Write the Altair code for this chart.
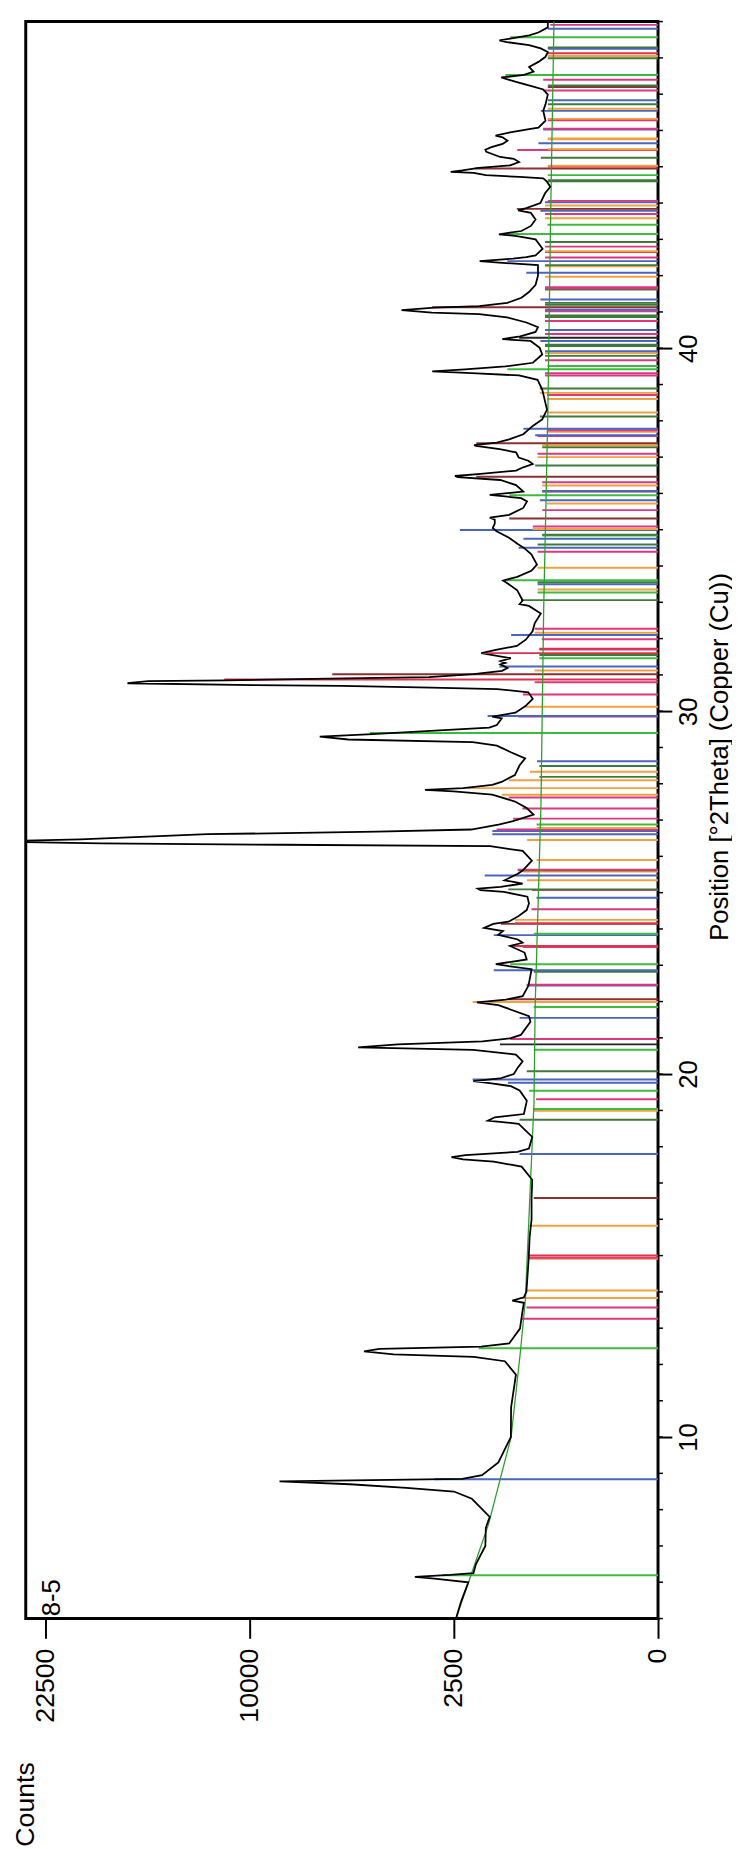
import altair as alt
import pandas as pd

# ---- measured pattern (2Theta, counts) ----
theta_pts = [5.00,5.46,6.00,6.10,6.15,6.20,6.25,6.50,7.00,7.50,7.80,8.30,8.50,8.60,8.70,8.78,8.85,8.95,9.30,10.00,
 10.82,11.72,12.09,12.21,12.28,12.36,12.43,12.49,12.58,12.99,13.50,13.70,13.76,13.85,14.00,14.90,15.50,16.00,16.60,17.09,
 17.45,17.59,17.65,17.71,17.77,17.86,17.95,18.27,18.63,18.72,18.81,18.90,19.27,19.55,19.67,19.75,19.81,19.88,20.00,20.17,
 20.35,20.54,20.67,20.74,20.82,20.90,20.99,21.08,21.44,21.60,21.90,21.98,22.05,22.15,22.44,22.89,22.98,23.03,23.16,23.35,
 23.53,23.62,23.71,23.84,23.94,24.03,24.14,24.20,24.34,24.52,24.70,24.89,25.02,25.07,25.11,25.16,25.25,25.34,25.52,25.61,
 25.88,26.15,26.28,26.32,26.36,26.41,26.47,26.61,26.68,26.74,26.88,26.97,27.15,27.33,27.51,27.70,27.79,27.83,27.88,27.97,
 28.05,28.24,28.51,28.70,28.87,29.05,29.15,29.22,29.30,29.37,29.45,29.55,29.62,29.80,29.85,29.96,30.14,30.34,30.52,30.61,
 30.65,30.70,30.72,30.77,30.83,30.85,30.90,30.94,31.02,31.11,31.19,31.29,31.33,31.38,31.46,31.60,31.69,31.80,31.97,32.20,
 32.42,32.69,32.90,32.95,33.05,33.33,33.51,33.60,33.70,33.87,34.04,34.32,34.50,34.60,34.78,34.96,35.05,35.17,35.28,35.33,
 35.41,35.60,35.78,35.87,35.96,36.05,36.23,36.37,36.45,36.48,36.54,36.63,36.72,36.81,36.90,36.99,37.13,37.22,37.31,37.33,
 37.40,37.49,37.63,37.86,38.04,38.31,38.86,39.13,39.25,39.31,39.36,39.42,39.50,39.60,39.83,40.01,40.20,40.25,40.33,40.45,
 40.58,40.71,40.85,40.94,40.98,41.05,41.12,41.16,41.25,41.39,41.55,41.75,42.00,42.29,42.36,42.40,42.47,42.51,42.56,42.74,
 43.00,43.09,43.14,43.23,43.37,43.55,43.73,43.80,43.86,44.00,44.27,44.45,44.59,44.68,44.72,44.77,44.83,44.86,44.90,44.97,
 45.04,45.13,45.22,45.27,45.41,45.47,45.54,45.63,45.72,45.81,45.86,45.95,46.04,46.08,46.27,46.54,46.72,46.99,47.13,47.22,
 47.31,47.40,47.46,47.53,47.62,47.75,47.89,48.03,48.16,48.26,48.35,48.44,48.48,48.53,48.62,48.70,48.84,49.00]
counts_pts = [2450,2330,2160,3000,3550,2600,2045,1990,1790,1780,1700,2080,2500,3800,5700,8600,2300,1860,1530,1300,
 1296,1212,1408,2040,4200,5190,4660,1880,1330,1144,1100,1080,1275,1080,1040,1005,990,960,960,950,
 1117,1620,2280,2560,2225,1185,1000,950,1165,1737,1600,1080,1033,1150,1300,1700,2050,1500,1250,1185,
 1100,1213,2050,5400,4070,1850,1300,1130,977,1000,1530,1970,1390,1100,1007,960,1360,1580,1035,1070,
 1315,1100,1180,1535,1445,1815,1630,1340,1180,1035,1000,1024,1425,1895,1950,1485,1100,1415,1180,1100,
 955,1100,1690,8460,18600,27000,20040,12190,4740,2095,1505,1262,930,1036,1228,1650,2510,3260,2280,1650,
 1470,1230,1150,1060,1300,1560,2060,5760,6870,4900,3240,1710,1560,1467,1650,1220,1055,942,1010,1550,
 3080,6000,9880,16900,15600,11200,6550,3150,2040,1460,1360,1490,1400,1490,1300,1875,1580,1195,1050,945,
 913,825,1000,1150,1100,1190,1350,1440,1190,963,880,963,1080,1175,1333,1565,1640,1600,1600,1700,
 1330,1090,1030,1125,1700,1090,1210,1493,2410,2475,1890,1210,1090,942,1010,1165,1210,1505,1990,2030,
 1562,1330,1090,942,805,740,805,871,1160,1970,3060,2235,1400,940,805,840,975,1455,1140,900,
 865,1040,1370,1920,3070,3950,3000,1920,1363,1120,1000,900,865,865,1520,1910,1263,1042,900,800,
 900,1197,1520,1120,970,900,970,1175,1042,831,766,697,740,791,1150,1780,2040,2580,2300,1927,
 1312,1160,1250,1495,1770,1790,1667,1450,1360,1450,1585,1312,998,859,760,791,760,729,791,960,
 1150,1345,1475,1075,930,998,859,760,729,825,998,1397,1510,1312,998,859,729,729]

# ---- background line ----
bg_theta = [5.0, 7.6, 10.0, 12.4, 13.8, 19.2, 21.9, 27.4, 32.8, 38.2, 43.7, 49.0]
bg_counts = [2450, 1724, 1296, 1134, 1056, 924, 906, 823, 785, 729, 692, 650]

# ---- reference stick patterns (2Theta, height, phase) ----
stick_theta = [6.19,8.84,12.45,13.26,13.57,13.83,14.04,14.91,14.94,15.00,15.82,16.59,17.80,18.74,18.99,19.04,19.31,19.54,19.76,19.85,
 20.08,20.67,20.82,20.97,21.55,21.85,21.99,22.06,22.44,22.46,22.82,22.86,23.03,23.50,23.53,23.83,23.87,24.14,24.16,24.25,24.54,
 24.86,25.07,25.09,25.34,25.47,25.58,25.60,25.62,25.63,25.90,26.45,26.61,26.70,26.74,26.78,26.88,27.04,27.32,27.62,27.70,27.88,
 28.10,28.19,28.33,28.49,28.62,29.40,29.85,29.87,30.12,30.46,30.80,30.87,31.02,31.12,31.23,31.46,31.55,31.60,31.70,31.72,31.98,
 32.10,32.16,32.27,33.06,33.27,33.35,33.50,33.55,33.61,33.95,34.39,34.50,34.59,34.75,34.84,34.86,34.99,35.02,35.09,35.31,35.54,
 35.72,35.81,35.95,36.05,36.06,36.07,36.22,36.31,36.46,36.77,37.00,37.09,37.27,37.33,37.38,37.58,37.60,37.70,37.74,37.78,38.12,
 38.23,38.60,38.71,38.77,38.89,39.25,39.31,39.42,39.51,39.67,39.79,39.86,39.92,40.06,40.10,40.20,40.29,40.39,40.50,40.75,40.86,
 40.90,41.02,41.06,41.13,41.20,41.25,41.34,41.62,41.65,41.68,41.97,42.08,42.26,42.29,42.40,42.50,42.65,42.67,42.80,42.93,43.15,
 43.40,43.58,43.70,43.79,43.84,43.93,44.02,44.06,44.60,44.63,44.77,44.95,45.01,45.03,45.25,45.46,45.47,45.48,45.65,45.76,45.78,
 46.03,46.05,46.28,46.30,46.32,46.54,46.60,46.72,46.83,47.10,47.20,47.24,47.40,47.53,47.99,48.05,48.13,48.25,48.29,48.57,48.80,48.91]
stick_counts = [2790,3000,1930,1115,1038,1152,1038,1000,998,998,998,927,1150,1150,927,927,892,998,1353,2064,
 1035,927,1500,1312,1150,927,2064,1353,1035,1035,927,1620,1312,1100,1312,1620,927,1480,1229,1229,963,
 886,955,1345,1029,1803,1100,1100,1181,1181,886,1029,1648,1648,1564,886,886,1262,1104,1337,1467,2204,
 1337,845,985,845,879,4982,1173,1744,1058,1096,913,11300,6372,913,1510,845,845,1841,845,845,811,
 1295,913,913,1127,871,871,871,871,1371,871,871,1166,871,1088,805,805,2357,942,942,1328,805,
 741,838,1328,805,805,805,805,805,1983,906,871,871,805,805,1983,871,906,741,741,1088,838,
 741,741,741,838,838,766,766,1363,734,766,766,766,766,766,766,831,1157,766,766,766,766,
 766,766,766,3065,766,766,831,766,766,766,766,1042,766,766,1363,766,766,766,766,766,1363,
 734,766,766,831,1197,766,766,729,729,729,729,2014,729,729,825,1190,729,729,859,729,729,
 791,791,729,729,729,825,729,729,729,791,729,729,791,1397,729,729,729,729,729,1312,729,697]
stick_phase = ["G","B","G","P","P","O","O","O","P","R","O","BR","B","DG","O","G","P","G","B","B",
 "DG","G","K","P","B","G","O","BR","B","P","DG","B","G","P","R","B","G","BR","R","O","P",
 "B","P","DG","O","B","O","O","DG","P","O","O","B","B","P","O","G","P","P","P","O","O",
 "O","DG","O","DG","B","G","P","B","O","P","P","R","BR","O","B","G","DG","R","P","R","P",
 "B","O","P","DG","G","O","B","DG","G","O","P","B","DG","B","G","DG","B","O","P","BR","P",
 "O","B","G","B","P","B","O","P","BR","DG","O","P","DG","O","BR","P","B","O","P","B","DG",
 "O","O","P","O","DG","P","P","G","G","P","DG","O","B","DG","DG","B","K","P","B","P","DG",
 "DG","P","B","BR","DG","DG","B","DG","P","P","O","B","O","DG","B","P","R","O","P","DG","G",
 "G","O","P","B","BR","O","B","P","DG","DG","G","BR","R","O","DG","P","R","O","B","O","O",
 "B","P","P","P","O","B","O","DG","B","P","BR","DG","P","G","DG","O","R","B","DG","G","B","P"]

phase_names = ["G", "DG", "B", "R", "O", "P", "BR", "K"]
phase_colors = ["#3cbc3c", "#3d7a3a", "#4a64c4", "#e2304a", "#f2a040", "#e0357f", "#8c2f2f", "#222222"]

# ---- axis ticks ----
count_ticks = [0, 2500, 10000, 22500]
theta_ticks = [10, 20, 30, 40]
theta_minor = list(range(5, 50))
sample_label = ["8-5"]

pattern = pd.DataFrame({"theta": theta_pts, "counts": counts_pts})
background = pd.DataFrame({"theta": bg_theta, "counts": bg_counts})
sticks = pd.DataFrame({"theta": stick_theta, "counts": stick_counts, "phase": stick_phase})
minor = pd.DataFrame({"theta": theta_minor})
lab = pd.DataFrame({"text": sample_label})

FONT = "Liberation Sans"
W, H = 641, 1619

xscale = alt.Scale(type="sqrt", domain=[0, 24000], reverse=True, nice=False, zero=True)
yscale = alt.Scale(domain=[5, 49], nice=False, zero=False)

xaxis = alt.Axis(values=count_ticks, title="Counts", grid=False, domain=False,
                 labelAngle=270, labelAlign="right", labelBaseline="middle",
                 labelFontSize=27, labelPadding=10, labelFlush=False, labelOverlap=False,
                 tickSize=20, tickWidth=2, tickColor="black", labelColor="black",
                 titleAngle=270, titleX=0, titleY=188, titleAlign="center",
                 titleBaseline="middle", titleFontSize=27, titleFontWeight="normal",
                 titleColor="black", format="d")
yaxis = alt.Axis(values=theta_ticks, orient="right", grid=False, domain=False,
                 title="Position [°2Theta] (Copper (Cu))",
                 labelAngle=270, labelAlign="center", labelBaseline="top",
                 labelFontSize=26, labelPadding=4, labelFlush=False, labelOverlap=False,
                 tickSize=14, tickWidth=2, tickColor="black", labelColor="black",
                 titleAngle=270, titleX=62, titleY=745, titleAlign="center",
                 titleBaseline="middle", titleFontSize=26, titleFontWeight="normal",
                 titleColor="black")

X = alt.X("counts:Q", scale=xscale, axis=xaxis)
Y = alt.Y("theta:Q", scale=yscale, axis=yaxis)

stick_layer = alt.Chart(sticks).mark_rule(strokeWidth=2, clip=True).encode(
    x=X, x2=alt.datum(0), y=Y,
    color=alt.Color("phase:N", scale=alt.Scale(domain=phase_names, range=phase_colors), legend=None),
)

pattern_layer = alt.Chart(pattern).mark_line(color="black", strokeWidth=1.8, clip=True).encode(
    x=X, y=Y, order=alt.Order("theta:Q")
)

bg_layer = alt.Chart(background).mark_line(color="#2aa02a", strokeWidth=1.3, clip=True).encode(
    x=X, y=Y, order=alt.Order("theta:Q")
)

minor_layer = alt.Chart(minor).mark_rule(color="black", strokeWidth=1.5).encode(
    y=Y, x=alt.value(W), x2=alt.value(W + 5)
)

label_layer = alt.Chart(lab).mark_text(angle=270, fontSize=26, font=FONT, align="center",
                                       baseline="middle", color="black").encode(
    text="text:N", x=alt.value(27), y=alt.value(1598)
)

chart = alt.layer(stick_layer, bg_layer, pattern_layer, minor_layer, label_layer).properties(
    width=W, height=H, padding={"left": 4, "top": 0, "right": 0, "bottom": 0}
).configure(
    font=FONT
).configure_view(
    stroke="black", strokeWidth=3
)

chart.save("out.html", embed_options={"renderer": "svg", "actions": False})
